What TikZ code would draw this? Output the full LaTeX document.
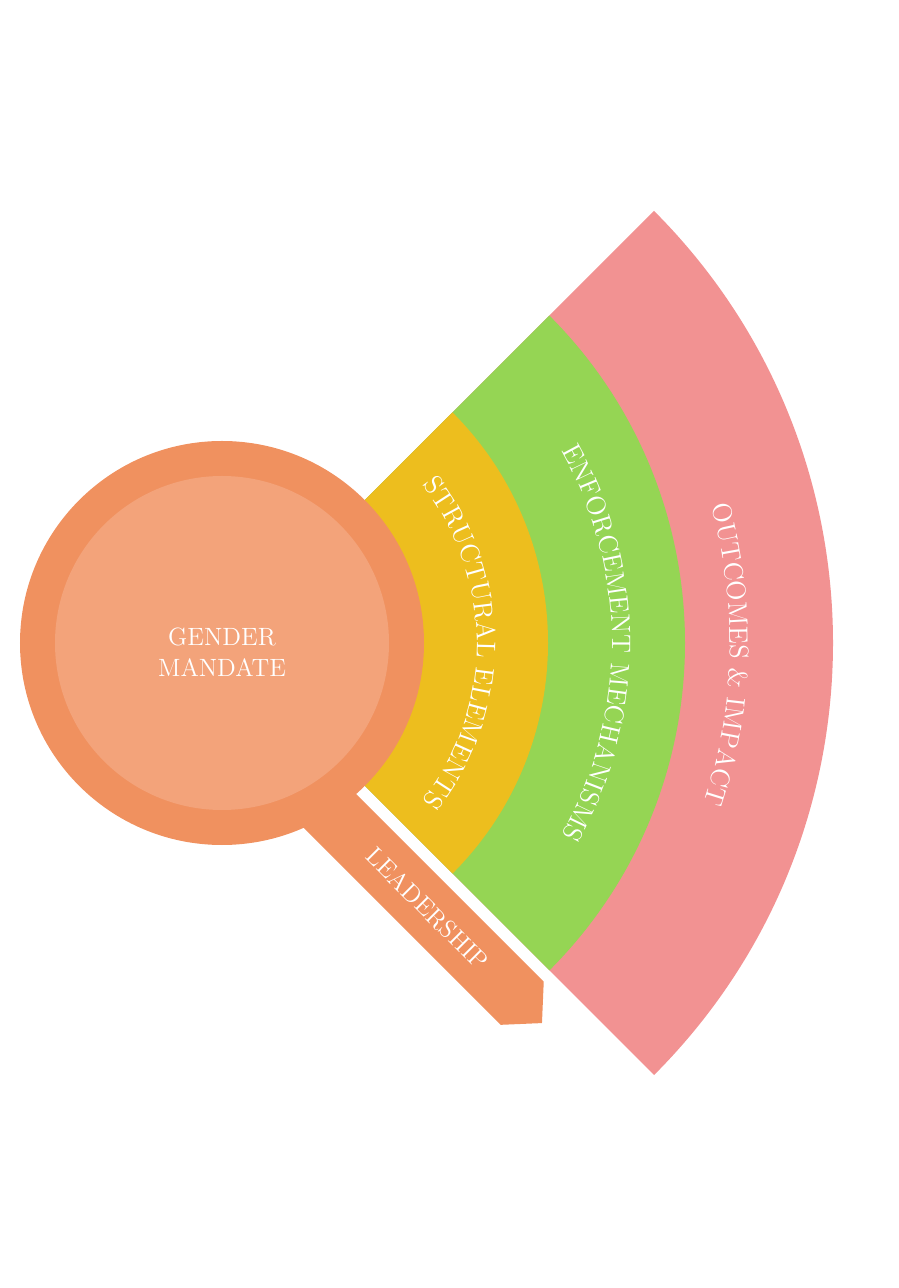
\documentclass[tikz,border=0pt]{standalone}
\usepackage{tikz}
\usepackage{xcolor}
\usetikzlibrary{decorations.text}

\definecolor{ringorange}{HTML}{F0915F}
\definecolor{coreorange}{HTML}{F3A37A}
\definecolor{bandyellow}{HTML}{EDBE1E}
\definecolor{bandgreen}{HTML}{95D554}
\definecolor{bandpink}{HTML}{F29292}

\begin{document}
\begin{tikzpicture}[x=0.5pt, y=0.5pt,
    lbl/.style={text=white, font=\fontsize{12.5}{15.5}\selectfont, inner sep=0pt},
    arclabel/.style={decorate, decoration={text along path, text align=center,
      text color=white, text={|\fontsize{13.4}{15}\selectfont|#1}}}]
  \useasboundingbox (-222,-645) rectangle (676,643);
  \coordinate (hub) at (0,0);

  % bands, outermost first
  \fill[bandpink] (hub) -- (45:611) arc[start angle=45, end angle=-45, radius=611] -- cycle;
  \fill[bandgreen] (hub) -- (45:463) arc[start angle=45, end angle=-45, radius=463] -- cycle;
  \fill[bandyellow] (hub) -- (45:326) arc[start angle=45, end angle=-45, radius=326] -- cycle;

  % leadership handle
  \begin{scope}[rotate=-45]
    \fill[ringorange] (0,-12) -- (467,-12) -- (495,-42.5) -- (467,-73) -- (0,-73) -- cycle;
    \node[lbl, rotate=-45] (leadership) at (333,-42.5) {LEADERSHIP};
  \end{scope}

  % mandate circle
  \fill[ringorange] (hub) circle[radius=202];
  \fill[coreorange] (hub) circle[radius=167];
  \node[lbl, align=center] (mandate) at (0,-9) {GENDER\\MANDATE};

  % band labels
  \path[arclabel={STRUCTURAL ELEMENTS}] (50:255) arc[start angle=50, end angle=-50, radius=255];
  \path[arclabel={ENFORCEMENT MECHANISMS}] (50:390) arc[start angle=50, end angle=-50, radius=390];
  \path[arclabel={OUTCOMES {\&} IMPACT}] (48.7:508) arc[start angle=48.7, end angle=-51.3, radius=508];
\end{tikzpicture}
\end{document}
